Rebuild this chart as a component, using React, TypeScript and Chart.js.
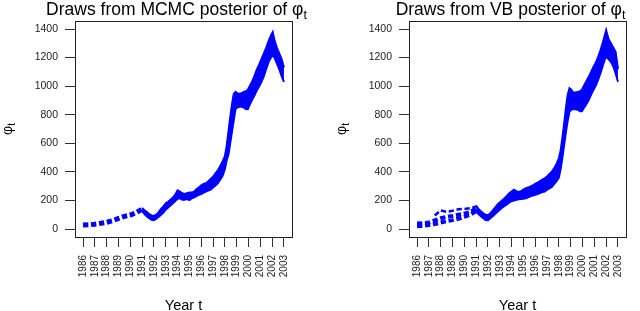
import React, { useEffect, useRef } from "react";
import { Chart, registerables } from "chart.js";

Chart.register(...registerables);

// ---- tick labels ----
const yearTicks = [1986, 1987, 1988, 1989, 1990, 1991, 1992, 1993, 1994, 1995, 1996, 1997, 1998, 1999, 2000, 2001, 2002, 2003];
const valueTicks = [0, 200, 400, 600, 800, 1000, 1200, 1400];

// ---- MCMC panel ----
const mcmcEarlyYears = [1986.0, 1986.5, 1987.0, 1987.5, 1988.0, 1988.5, 1989.0, 1989.5, 1990.0, 1990.5, 1991.0];
const mcmcEarlyValues = [28, 30, 34, 40, 47, 58, 74, 88, 98, 115, 140];

const mcmcBandYears = [
  1991.0, 1991.2, 1991.4, 1991.6, 1991.8, 1992.0, 1992.2, 1992.4, 1992.6, 1992.8,
  1993.0, 1993.2, 1993.4, 1993.6, 1993.8, 1994.0, 1994.2, 1994.4, 1994.6, 1994.8,
  1995.0, 1995.2, 1995.4, 1995.6, 1995.8, 1996.0, 1996.2, 1996.4, 1996.6, 1996.8,
  1997.0, 1997.2, 1997.4, 1997.6, 1997.8, 1998.0, 1998.15, 1998.3, 1998.45, 1998.6,
  1998.75, 1998.9, 1999.05, 1999.2, 1999.4, 1999.6, 1999.8, 1999.95, 2000.1, 2000.3,
  2000.5, 2000.7, 2000.9, 2001.1, 2001.3, 2001.5, 2001.7, 2001.9, 2002.05, 2002.2,
  2002.4, 2002.6, 2002.8, 2003.0,
];
const mcmcBandLower = [
  125, 105, 88, 76, 65, 62, 72, 85, 100, 115,
  135, 150, 165, 180, 195, 212, 215, 205, 205, 210,
  203, 215, 222, 230, 240, 245, 255, 262, 270, 275,
  290, 305, 320, 345, 370, 420, 480, 520, 600, 680,
  760, 840, 850, 855, 858, 850, 838, 840, 870, 905,
  935, 970, 1000, 1030, 1070, 1120, 1170, 1200, 1215, 1200,
  1160, 1120, 1070, 1030,
];
const mcmcBandUpper = [
  148, 130, 118, 105, 95, 92, 100, 118, 140, 158,
  180, 190, 205, 220, 240, 270, 262, 250, 245, 250,
  255, 255, 262, 280, 290, 305, 315, 320, 335, 350,
  365, 390, 410, 440, 470, 510, 580, 680, 780, 870,
  945, 960, 950, 945, 950, 960, 965, 975, 1000, 1030,
  1070, 1115, 1150, 1190, 1230, 1270, 1315, 1355, 1378, 1320,
  1270, 1230, 1190, 1130,
];

// ---- VB panel ----
const vbEarlyYears = [1986.0, 1986.5, 1987.0, 1987.5, 1988.0, 1988.5, 1989.0, 1989.5, 1990.0, 1990.5, 1991.0];
const vbEarlyLower = [20, 22, 28, 35, 45, 55, 62, 72, 85, 100, 125];
const vbEarlyMiddle = [40, 38, 45, 60, 75, 85, 92, 100, 108, 118, 145];
const vbEarlyUpperYears = [1987.5, 1988.0, 1988.5, 1989.0, 1989.5, 1990.0, 1990.5, 1991.0];
const vbEarlyUpper = [95, 130, 120, 128, 138, 140, 145, 158];

const vbBandYears = [
  1991.0, 1991.2, 1991.4, 1991.6, 1991.8, 1992.0, 1992.2, 1992.4, 1992.6, 1992.8,
  1993.0, 1993.2, 1993.4, 1993.6, 1993.8, 1994.0, 1994.2, 1994.4, 1994.6, 1994.8,
  1995.0, 1995.2, 1995.4, 1995.6, 1995.8, 1996.0, 1996.2, 1996.4, 1996.6, 1996.8,
  1997.0, 1997.2, 1997.4, 1997.6, 1997.8, 1998.0, 1998.15, 1998.3, 1998.45, 1998.6,
  1998.75, 1998.9, 1999.05, 1999.2, 1999.4, 1999.6, 1999.8, 1999.95, 2000.1, 2000.3,
  2000.5, 2000.7, 2000.9, 2001.1, 2001.3, 2001.5, 2001.7, 2001.9, 2002.0, 2002.2,
  2002.4, 2002.6, 2002.8, 2003.0,
];
const vbBandLower = [
  125, 105, 90, 75, 63, 62, 75, 90, 105, 120,
  135, 150, 162, 172, 185, 195, 200, 205, 208, 210,
  212, 215, 222, 228, 235, 240, 245, 252, 258, 262,
  275, 285, 295, 315, 335, 360, 420, 500, 590, 680,
  760, 820, 835, 840, 838, 835, 825, 825, 845, 870,
  900, 935, 970, 1000, 1040, 1085, 1140, 1190, 1205, 1190,
  1170, 1140, 1090, 1030,
];
const vbBandUpper = [
  165, 140, 125, 110, 100, 98, 110, 128, 150, 170,
  185, 200, 215, 232, 250, 262, 275, 265, 260, 265,
  275, 285, 290, 298, 305, 318, 325, 335, 345, 355,
  368, 385, 400, 425, 455, 495, 550, 640, 740, 850,
  940, 985, 975, 955, 955, 960, 965, 975, 1000, 1030,
  1060, 1095, 1130, 1160, 1200, 1245, 1300, 1360, 1392, 1330,
  1300, 1270, 1240, 1120,
];

const BLUE = "#0000ff";
const FONT = '"Liberation Sans", Arial, Helvetica, sans-serif';

const pts = (xs: number[], ys: number[]) => xs.map((x, i) => ({ x, y: ys[i] }));

type PanelProps = {
  titleMain: string;
  datasets: any[];
  plotLeft: number;
  plotRight: number;
  yLabelX: number;
};

const W = 320;
const H = 311;
const PLOT_TOP = 21;
const PLOT_BOTTOM = 237;

function Panel({ titleMain, datasets, plotLeft, plotRight, yLabelX }: PanelProps) {
  const ref = useRef<HTMLCanvasElement | null>(null);
  useEffect(() => {
    if (!ref.current) return;
    const decor = {
      id: "decor",
      afterDraw(chart: any) {
        const { ctx, chartArea: a } = chart;
        ctx.save();
        // box
        ctx.strokeStyle = "#222";
        ctx.lineWidth = 1;
        ctx.strokeRect(Math.round(a.left) + 0.5, Math.round(a.top) + 0.5, Math.round(a.right - a.left), Math.round(a.bottom - a.top));
        // main title with subscript
        ctx.fillStyle = "#000";
        ctx.textBaseline = "alphabetic";
        ctx.textAlign = "left";
        const mainFont = `17.5px ${FONT}`;
        const subFont = `12.5px ${FONT}`;
        ctx.font = mainFont;
        const w1 = ctx.measureText(titleMain).width;
        ctx.font = subFont;
        const w2 = ctx.measureText("t").width;
        const cx = (a.left + a.right) / 2;
        const x0 = cx - (w1 + w2) / 2 - 7;
        ctx.font = mainFont;
        ctx.fillText(titleMain, x0, 15);
        ctx.font = subFont;
        ctx.fillText("t", x0 + w1, 18.5);
        // x axis title
        ctx.font = `14.5px ${FONT}`;
        ctx.textAlign = "center";
        ctx.fillText("Year t", cx, 310);
        // y axis title (rotated)
        ctx.translate(yLabelX, (a.top + a.bottom) / 2);
        ctx.rotate(-Math.PI / 2);
        ctx.textAlign = "left";
        ctx.font = `14px ${FONT}`;
        const wp = ctx.measureText("φ").width;
        ctx.font = `10px ${FONT}`;
        const wt = ctx.measureText("t").width;
        const sx = -(wp + wt) / 2;
        ctx.font = `14px ${FONT}`;
        ctx.fillText("φ", sx, 4);
        ctx.font = `10px ${FONT}`;
        ctx.fillText("t", sx + wp, 7);
        ctx.restore();
      },
    };
    const chart = new Chart(ref.current, {
      type: "line",
      data: { datasets },
      options: {
        animation: false,
        responsive: false,
        devicePixelRatio: 1,
        layout: { padding: { top: PLOT_TOP, right: W - plotRight, left: 0, bottom: 0 } },
        plugins: { legend: { display: false }, tooltip: { enabled: false }, title: { display: false } },
        elements: { point: { radius: 0 }, line: { tension: 0 } },
        scales: {
          x: {
            type: "linear",
            min: 1985.32,
            max: 2003.68,
            afterBuildTicks: (axis: any) => {
              axis.ticks = yearTicks.map((v) => ({ value: v }));
            },
            afterFit: (axis: any) => {
              axis.height = H - PLOT_BOTTOM;
            },
            ticks: {
              autoSkip: false,
              minRotation: 90,
              maxRotation: 90,
              padding: 8,
              color: "#222",
              font: { family: FONT, size: 10 },
              callback: (v: any) => String(v),
            },
            grid: { drawOnChartArea: false, drawTicks: true, tickLength: 10, color: "#333" },
            border: { display: false },
          },
          y: {
            type: "linear",
            min: -56,
            max: 1456,
            afterBuildTicks: (axis: any) => {
              axis.ticks = valueTicks.map((v) => ({ value: v }));
            },
            afterFit: (axis: any) => {
              axis.width = plotLeft;
            },
            ticks: {
              autoSkip: false,
              padding: 7,
              color: "#222",
              font: { family: FONT, size: 10.5 },
              callback: (v: any) => String(v),
            },
            grid: { drawOnChartArea: false, drawTicks: true, tickLength: 10, color: "#333" },
            border: { display: false },
          },
        },
      } as any,
      plugins: [decor],
    });
    return () => chart.destroy();
  }, []);
  return <canvas ref={ref} width={W} height={H} style={{ width: W, height: H, display: "block" }} />;
}

const dashed = (data: any[], width: number) => ({
  data,
  borderColor: BLUE,
  borderWidth: width,
  borderDash: [5.3, 2.7],
  borderCapStyle: "butt",
  fill: false,
  pointRadius: 0,
});

const bandLower = (data: any[]) => ({
  data,
  borderColor: BLUE,
  borderWidth: 2,
  fill: false,
  pointRadius: 0,
});
const bandUpper = (data: any[]) => ({
  data,
  borderColor: BLUE,
  borderWidth: 2,
  backgroundColor: BLUE,
  fill: "-1",
  pointRadius: 0,
});

export default function App() {
  const mcmcSets = [
    bandLower(pts(mcmcBandYears, mcmcBandLower)),
    bandUpper(pts(mcmcBandYears, mcmcBandUpper)),
    dashed(pts(mcmcEarlyYears, mcmcEarlyValues), 5),
  ];
  const vbSets = [
    bandLower(pts(vbBandYears, vbBandLower)),
    bandUpper(pts(vbBandYears, vbBandUpper)),
    dashed(pts(vbEarlyYears, vbEarlyLower), 4),
    dashed(pts(vbEarlyYears, vbEarlyMiddle), 4),
    dashed(pts(vbEarlyUpperYears, vbEarlyUpper), 2.5),
  ];
  return (
    <div style={{ position: "absolute", left: 0, top: 0, width: 640, height: 311, display: "flex", background: "#fff" }}>
      <Panel titleMain="Draws from MCMC posterior of φ" datasets={mcmcSets} plotLeft={75} plotRight={292} yLabelX={8} />
      <Panel titleMain="Draws from VB posterior of φ" datasets={vbSets} plotLeft={89} plotRight={306} yLabelX={22} />
    </div>
  );
}
